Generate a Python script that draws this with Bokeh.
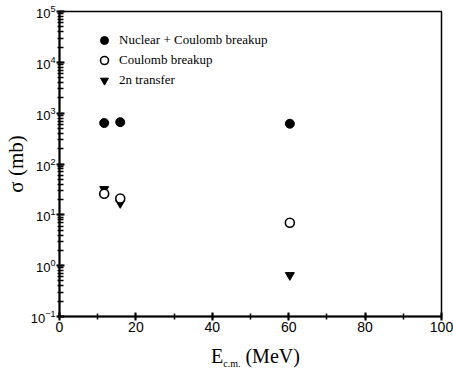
from bokeh.plotting import figure
from bokeh.layouts import column
from bokeh.models import (Legend, LegendItem, Div, SingleIntervalTicker,
                          LogTicker, Range1d)
from bokeh.embed import file_html
from bokeh.resources import INLINE

# Centre-of-mass energies (MeV) and cross sections (mb)
energy = [11.7, 15.9, 60.3]
sigma_nuclear_coulomb = [640, 665, 620]
sigma_coulomb = [26, 21, 7.0]
sigma_2n_transfer = [32, 17, 0.65]

legend_labels = ["Nuclear + Coulomb breakup", "Coulomb breakup", "2n transfer"]

SERIF = "Liberation Serif"
SANS = "Liberation Sans"

p = figure(width=453, height=338, y_axis_type="log",
           x_range=Range1d(0, 100), y_range=Range1d(0.1, 1e5),
           output_backend="svg", toolbar_location=None,
           min_border_left=55, min_border_right=12,
           min_border_top=11, min_border_bottom=22)

p.grid.visible = False
p.outline_line_color = "black"
p.outline_line_width = 1.5
p.background_fill_color = "white"
p.border_fill_color = "white"

# x axis
xa = p.xaxis[0]
xa.ticker = SingleIntervalTicker(interval=20, num_minor_ticks=2)
xa.axis_line_width = 2
xa.axis_line_color = "black"
xa.major_tick_line_color = "black"
xa.minor_tick_line_color = "black"
xa.major_tick_line_width = 2
xa.minor_tick_line_width = 1.5
xa.major_tick_in = 4
xa.major_tick_out = 4
xa.minor_tick_in = 3
xa.minor_tick_out = 3
xa.major_label_text_font = SANS
xa.major_label_text_font_size = "14px"
xa.major_label_text_color = "black"
xa.major_label_standoff = 1

# y axis
ya = p.yaxis[0]
ya.ticker = LogTicker(num_minor_ticks=10)
ya.axis_line_width = 2
ya.axis_line_color = "black"
ya.major_tick_line_color = "black"
ya.minor_tick_line_color = "black"
ya.major_tick_line_width = 2
ya.minor_tick_line_width = 1.5
ya.major_tick_in = 5
ya.major_tick_out = 3
ya.minor_tick_in = 4
ya.minor_tick_out = 2
ya.major_label_text_font = SANS
ya.major_label_text_font_size = "13px"
ya.major_label_text_color = "black"
ya.major_label_standoff = 1
ya.axis_label = "σ (mb)"
ya.axis_label_text_font = SERIF
ya.axis_label_text_font_size = "21px"
ya.axis_label_text_font_style = "normal"
ya.axis_label_text_color = "black"
ya.axis_label_standoff = 0

# data
r_tr = p.scatter(energy, sigma_2n_transfer, marker="inverted_triangle", size=9,
                 fill_color="black", line_color="black")
r_nc = p.scatter(energy, sigma_nuclear_coulomb, marker="circle", size=9,
                 fill_color="black", line_color="black")
r_c = p.scatter(energy, sigma_coulomb, marker="circle", size=9,
                fill_color="white", line_color="black", line_width=1.6)

legend = Legend(items=[LegendItem(label=legend_labels[0], renderers=[r_nc]),
                       LegendItem(label=legend_labels[1], renderers=[r_c]),
                       LegendItem(label=legend_labels[2], renderers=[r_tr])],
                location=(35, 226), border_line_color=None,
                background_fill_alpha=0, padding=0, margin=0, spacing=0,
                glyph_width=20, glyph_height=20, label_height=20,
                label_standoff=5, label_text_font=SERIF,
                label_text_font_size="13px", label_text_color="black")
p.add_layout(legend)

# x axis title with a subscripted c.m.
xtitle = Div(
    text=('<div style="font-family:\'Liberation Serif\',serif;'
          'font-size:20px;color:black;line-height:20px;">E<sub style="font-size:10px;'
          'vertical-align:-4px;">c.m.</sub> (MeV)</div>'),
    width=453, height=37, margin=(0, 0, 0, 211),
    styles={"padding-top": "8px"})

layout = column(p, xtitle, spacing=0)
open("out.html", "w").write(file_html(layout, INLINE))
